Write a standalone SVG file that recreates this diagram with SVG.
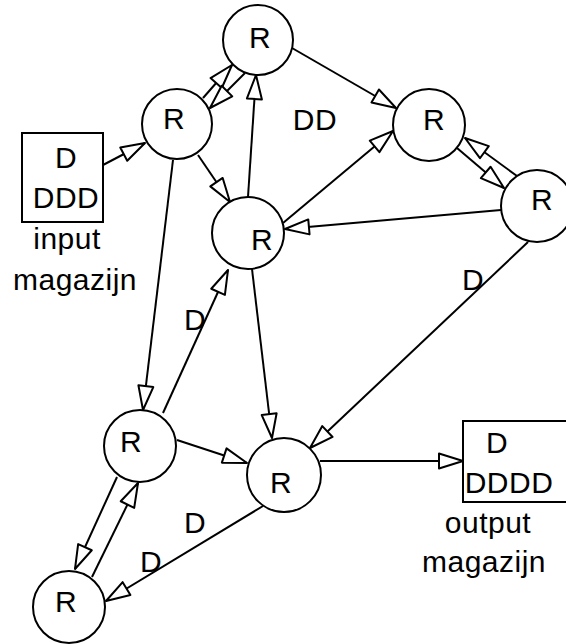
<svg xmlns="http://www.w3.org/2000/svg" width="566" height="644" viewBox="0 0 566 644">
  <style>
    .node circle { fill: #fff; stroke: #000; stroke-width: 2; }
    .store rect { fill: #fff; stroke: #000; stroke-width: 2; }
    text { font-family: "Liberation Sans", Arial, sans-serif; font-size: 30px; letter-spacing: 0.5px; fill: #000; text-anchor: middle; }
    .edges line { stroke: #000; stroke-width: 2; fill: none; marker-end: url(#open); }
  </style>
  <defs>
    <marker id="open" markerUnits="userSpaceOnUse" viewBox="-27 -11 30 22" markerWidth="30" markerHeight="22" refX="0" refY="0" orient="auto" overflow="visible">
      <path d="M0,0 L-24,-7.5 L-24,7.5 Z" fill="#fff" stroke="#000" stroke-width="2" stroke-linejoin="round"/>
    </marker>
  </defs>
  <rect width="566" height="644" fill="#fff"/>

  <!-- connectors -->
  <g id="edges" class="edges">
    <line x1="103" y1="165" x2="145" y2="143"/>
    <line x1="203" y1="98" x2="232" y2="65"/>
    <line x1="245" y1="73" x2="210" y2="108"/>
    <line x1="198" y1="155" x2="230" y2="202"/>
    <line x1="248" y1="197" x2="256" y2="75"/>
    <line x1="292" y1="48" x2="396" y2="108"/>
    <line x1="283" y1="223" x2="393" y2="131"/>
    <line x1="501" y1="210" x2="285" y2="229"/>
    <line x1="457" y1="148" x2="504" y2="188"/>
    <line x1="517" y1="176" x2="465" y2="138"/>
    <line x1="528" y1="242" x2="310" y2="448"/>
    <line x1="173" y1="160" x2="143" y2="410"/>
    <line x1="163" y1="413" x2="228" y2="270"/>
    <line x1="252" y1="269" x2="272" y2="438"/>
    <line x1="177" y1="440" x2="247" y2="463"/>
    <line x1="320" y1="461" x2="463" y2="461"/>
    <line x1="117" y1="477" x2="75" y2="569"/>
    <line x1="92" y1="577" x2="138" y2="483"/>
    <line x1="263" y1="506" x2="106" y2="601"/>
  </g>

  <!-- edge labels -->
  <g id="labels">
    <text x="315" y="130">DD</text>
    <text x="473" y="290">D</text>
    <text x="195" y="330">D</text>
    <text x="195" y="533">D</text>
    <text x="151" y="572">D</text>
  </g>

  <!-- stores -->
  <g id="input" class="store">
    <rect x="22" y="133" width="81" height="89"/>
    <text x="66" y="168">D</text>
    <text x="66" y="208">DDD</text>
    <text x="67" y="249">input</text>
    <text x="75" y="290">magazijn</text>
  </g>
  <g id="output" class="store">
    <rect x="463" y="421" width="110" height="81"/>
    <text x="497" y="453">D</text>
    <text x="509" y="493">DDDD</text>
    <text x="488" y="533">output</text>
    <text x="484" y="572">magazijn</text>
  </g>

  <!-- routers -->
  <g id="r1" class="node"><circle cx="258" cy="40" r="35"/><text x="260" y="48">R</text></g>
  <g id="r2" class="node"><circle cx="177" cy="124" r="35"/><text x="174" y="129">R</text></g>
  <g id="r3" class="node"><circle cx="429" cy="125" r="36"/><text x="434" y="130">R</text></g>
  <g id="r4" class="node"><circle cx="537" cy="206" r="36"/><text x="542" y="210">R</text></g>
  <g id="r5" class="node"><circle cx="248" cy="233" r="36"/><text x="262" y="250">R</text></g>
  <g id="r6" class="node"><circle cx="140" cy="446" r="36"/><text x="131" y="452">R</text></g>
  <g id="r7" class="node"><circle cx="284" cy="475" r="37"/><text x="281" y="493">R</text></g>
  <g id="r8" class="node"><circle cx="69" cy="607" r="36"/><text x="66" y="612">R</text></g>
</svg>
